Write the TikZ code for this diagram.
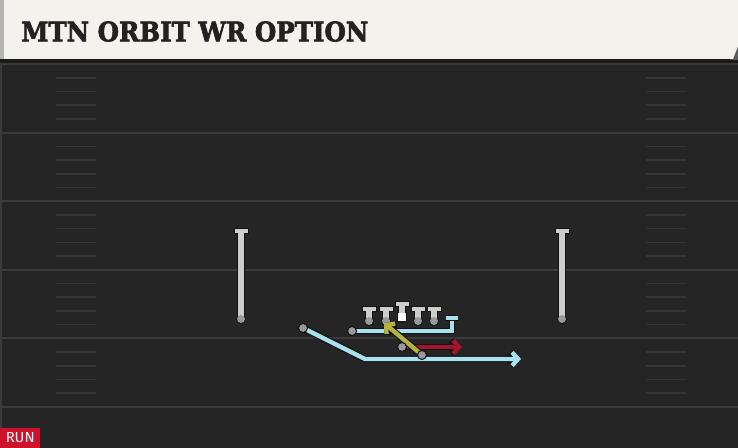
\documentclass[tikz,border=0pt]{standalone}
\usepackage{fontspec}
\usetikzlibrary{arrows.meta}
\newfontfamily\titlefont[BoldFeatures={FakeBold=2.5}]{DejaVu Serif}
\newfontfamily\runfont{Fira Sans}
\newlength\pxu \setlength\pxu{0.75pt}
\definecolor{fieldbg}{HTML}{252525}
\definecolor{bandc}{HTML}{1A1A1A}
\definecolor{yardline}{HTML}{3A3A3A}
\definecolor{hashc}{HTML}{353535}
\definecolor{headerbg}{HTML}{F4F2EC}
\definecolor{headeredge}{HTML}{B4B4B0}
\definecolor{cornerc}{HTML}{5A5A5A}
\definecolor{titlec}{HTML}{222222}
\definecolor{routeblue}{HTML}{A8E2EE}
\definecolor{routered}{HTML}{A3142E}
\definecolor{routeolive}{HTML}{B5B23F}
\definecolor{playergrey}{HTML}{CDCDCD}
\definecolor{dotgrey}{HTML}{9A9A9A}
\definecolor{outline}{HTML}{121212}
\definecolor{runred}{HTML}{D0112B}
\tikzset{
  yard/.style={draw=yardline, line width=1.5pt},
  hashmk/.style={draw=hashc, line width=1.2pt},
  routeline/.style={line width=3.3pt, line join=miter, line cap=butt,
    preaction={draw=outline, line width=5.1pt}},
  tipped/.style={-{Straight Barb[length=4.5pt,width=10pt]}},
  startdot/.style={fill=dotgrey, draw=outline, line width=0.75pt},
  lineman/.pic={
    \fill[outline] (-7.5,-15) rectangle (7.5,-8.5);
    \fill[outline] (-4,-9) rectangle (4,0);
    \fill[outline] (0,0) circle (5);
    \fill[playergrey] (-6.5,-14) rectangle (6.5,-9.5);
    \fill[playergrey] (-3,-10) rectangle (3,0);
    \fill[dotgrey] (0,0) circle (4);
  },
  centerman/.pic={
    \fill[outline] (-7.5,-20) rectangle (7.5,-13.5);
    \fill[outline] (-4,-14) rectangle (4,-7);
    \fill[outline] (-5,-8.5) rectangle (5,1);
    \fill[playergrey] (-6.5,-19) rectangle (6.5,-14.5);
    \fill[playergrey] (-3,-15) rectangle (3,-8);
    \fill[white] (-4,-7.5) rectangle (4,0);
  },
  upright/.pic={
    \fill[outline] (-7.5,-91) rectangle (7.5,-84.5);
    \fill[outline] (-4,-85) rectangle (4,0);
    \fill[outline] (0,0) circle (5);
    \fill[playergrey] (-6.5,-90) rectangle (6.5,-85.5);
    \fill[playergrey] (-3,-86) rectangle (3,0);
    \fill[dotgrey] (0,0) circle (4);
  }
}
\begin{document}
\begin{tikzpicture}[x=0.75pt,y=-0.75pt]
\useasboundingbox (0,0) rectangle (738,448);
% field
\fill[fieldbg] (0,0) rectangle (738,448);
\fill[bandc] (0,59) rectangle (738,63);
\draw[yardline, line width=1.1pt] (1,63) -- (1,448);
\foreach \k in {0,...,5} {
  \draw[yard] (0,64+68.6*\k) -- (738,64+68.6*\k);
}
\foreach \k in {0,...,4} {
  \foreach \j in {1,...,4} {
    \draw[hashmk] (56,64+68.6*\k+13.72*\j) -- (96,64+68.6*\k+13.72*\j);
    \draw[hashmk] (646,64+68.6*\k+13.72*\j) -- (686,64+68.6*\k+13.72*\j);
  }
}
% header
\fill[cornerc] (730,60) -- (737,46) -- (738,46) -- (738,60) -- cycle;
\fill[headerbg] (0,0) -- (738,0) -- (738,46) -- (733,59) -- (0,59) -- cycle;
\fill[headeredge] (0,0) rectangle (4,59);
\node[anchor=south west, inner sep=0, text=titlec] (title) at (21,42)
  {\resizebox{347\pxu}{20\pxu}{\titlefont\bfseries MTN ORBIT WR OPTION}};
% uprights
\pic at (241,319) {upright};
\pic at (562,319) {upright};
% line
\pic at (369,321) {lineman};
\pic at (386,321) {lineman};
\pic at (402,321) {centerman};
\pic at (418,321) {lineman};
\pic at (434,321) {lineman};
% route points
\coordinate (b1s) at (352,331);
\coordinate (b1c) at (452,331);
\coordinate (b1e) at (452,318);
\coordinate (b1l) at (446,318);
\coordinate (b1r) at (458,318);
\coordinate (b2s) at (303,328);
\coordinate (b2c) at (365,359);
\coordinate (b2e) at (521,359);
\coordinate (rs) at (402,347);
\coordinate (re) at (462,347);
\coordinate (os) at (422,355);
\coordinate (oe) at (384,323);
% routes
\draw[routeline, routeblue] (b1s) -- (b1c) -- (b1e);
\draw[routeline, routeblue] (b1l) -- (b1r);
\draw[routeline, routeblue, tipped] (b2s) -- (b2c) -- (b2e);
\draw[routeline, routered, tipped] (rs) -- (re);
\draw[routeline, routeolive, tipped] (os) -- (oe);
% start dots
\path[startdot] (b1s) circle (4.5);
\path[startdot] (b2s) circle (4.5);
\path[startdot] (rs) circle (4.5);
\path[startdot] (os) circle (4.5);
% run tag
\node[fill=runred, inner sep=0, minimum width=30pt, minimum height=15pt,
  anchor=south west, text=white] (runtag) at (0,448)
  {\resizebox{29\pxu}{10\pxu}{\runfont RUN}};
\end{tikzpicture}
\end{document}
